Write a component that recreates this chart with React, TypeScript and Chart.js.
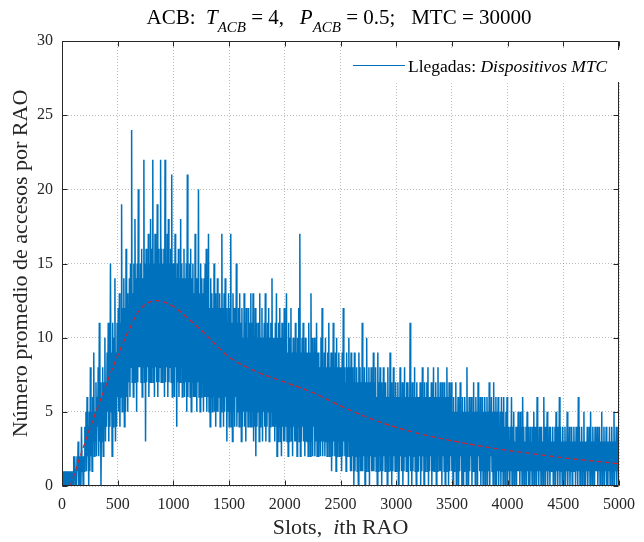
import React, { useEffect, useRef } from "react";
import { Chart, registerables } from "chart.js";

Chart.register(...registerables);

// Simulated arrivals (blue), one value every SLOT_STEP slots
const SLOT_STEP = 5;
// slots 0 – 995
const arrivals0to1000 = [
  0, 1, 0, 1, 0, 0, 1, 0, 1, 0, 0, 1, 0, 1, 0, 1, 0, 1, 0, 1,
  0, 2, 1, 2, 0, 1, 0, 2, 1, 3, 0, 2, 0, 1, 0, 4, 1, 2, 0, 2,
  1, 4, 2, 5, 1, 6, 2, 4, 0, 5, 1, 8, 2, 5, 1, 6, 3, 9, 2, 5,
  3, 7, 2, 6, 4, 8, 2, 11, 3, 7, 0, 6, 3, 8, 2, 7, 4, 10, 3, 7,
  4, 9, 5, 11, 3, 10, 4, 15, 5, 9, 2, 11, 4, 10, 5, 14, 3, 9, 4, 11,
  6, 12, 5, 13, 4, 11, 6, 19, 5, 12, 6, 14, 4, 12, 5, 16, 6, 13, 5, 12,
  7, 14, 6, 15, 8, 24, 7, 13, 6, 15, 7, 18, 8, 14, 5, 15, 7, 20, 8, 14,
  8, 15, 7, 16, 6, 14, 8, 22, 7, 15, 3, 16, 7, 14, 8, 17, 6, 15, 7, 18,
  7, 16, 8, 22, 7, 15, 6, 17, 8, 14, 7, 19, 6, 16, 7, 15, 8, 22, 7, 16,
  7, 15, 8, 16, 6, 22, 7, 15, 8, 17, 6, 18, 7, 15, 8, 16, 7, 21, 6, 15,
];
// slots 1000 – 1995
const arrivals1000to2000 = [
  7, 15, 6, 17, 8, 14, 4, 15, 7, 16, 6, 14, 7, 18, 8, 15, 6, 14, 7, 16,
  6, 14, 7, 15, 5, 21, 6, 14, 7, 15, 6, 16, 5, 14, 7, 15, 6, 13, 6, 17,
  6, 14, 5, 13, 7, 20, 6, 13, 5, 15, 6, 14, 7, 13, 5, 14, 6, 15, 6, 16,
  5, 13, 6, 17, 5, 12, 4, 14, 6, 13, 5, 12, 6, 15, 5, 13, 4, 12, 5, 14,
  5, 12, 6, 13, 4, 12, 5, 17, 6, 12, 4, 13, 5, 14, 6, 12, 3, 11, 5, 13,
  4, 12, 5, 17, 4, 11, 3, 13, 5, 12, 4, 11, 6, 15, 4, 11, 5, 12, 4, 13,
  5, 11, 3, 12, 4, 10, 5, 13, 4, 11, 3, 12, 5, 10, 4, 12, 5, 11, 4, 13,
  4, 11, 5, 13, 3, 10, 4, 12, 2, 11, 4, 10, 5, 11, 3, 13, 4, 10, 5, 12,
  3, 10, 5, 11, 4, 13, 3, 10, 4, 11, 5, 12, 3, 10, 4, 11, 5, 14, 4, 10,
  4, 10, 3, 11, 4, 13, 2, 10, 3, 11, 4, 12, 3, 10, 2, 11, 4, 10, 3, 12,
];
// slots 2000 – 2995
const arrivals2000to3000 = [
  3, 10, 4, 13, 3, 9, 2, 11, 3, 10, 4, 12, 3, 9, 2, 10, 4, 9, 3, 11,
  3, 9, 2, 10, 4, 12, 3, 17, 2, 9, 3, 10, 4, 11, 3, 9, 2, 10, 3, 9,
  3, 9, 2, 11, 3, 9, 2, 13, 3, 10, 2, 9, 4, 10, 2, 9, 3, 11, 2, 9,
  2, 9, 3, 8, 2, 10, 3, 12, 2, 8, 3, 9, 2, 10, 3, 8, 2, 9, 3, 11,
  2, 8, 3, 9, 1, 8, 2, 11, 3, 8, 2, 9, 1, 10, 2, 8, 3, 9, 2, 8,
  2, 8, 1, 9, 2, 12, 3, 8, 2, 7, 1, 9, 2, 8, 3, 10, 2, 8, 1, 9,
  1, 8, 2, 7, 0, 9, 1, 7, 2, 8, 1, 7, 0, 9, 2, 8, 1, 7, 1, 11,
  1, 7, 2, 8, 0, 7, 1, 10, 2, 7, 1, 8, 0, 7, 2, 8, 1, 7, 1, 9,
  1, 7, 2, 8, 1, 6, 0, 9, 1, 7, 2, 8, 1, 7, 0, 6, 1, 8, 2, 7,
  1, 7, 2, 6, 0, 8, 1, 6, 2, 9, 1, 7, 0, 6, 1, 8, 2, 6, 1, 7,
];
// slots 3000 – 3995
const arrivals3000to4000 = [
  1, 6, 2, 7, 0, 6, 1, 8, 2, 6, 1, 7, 0, 6, 1, 8, 2, 6, 1, 7,
  1, 7, 0, 6, 2, 11, 1, 6, 0, 7, 1, 6, 2, 8, 1, 6, 0, 7, 1, 6,
  1, 6, 2, 7, 0, 6, 1, 8, 2, 6, 0, 7, 1, 6, 2, 7, 1, 8, 0, 6,
  1, 6, 2, 7, 0, 6, 1, 8, 1, 6, 2, 7, 0, 6, 1, 8, 2, 6, 1, 7,
  1, 6, 0, 7, 2, 6, 1, 7, 0, 6, 1, 8, 2, 6, 0, 7, 1, 6, 2, 7,
  1, 5, 0, 6, 1, 5, 2, 7, 0, 5, 1, 6, 0, 5, 1, 7, 2, 5, 0, 6,
  0, 5, 1, 6, 2, 5, 0, 8, 1, 5, 0, 6, 1, 5, 2, 6, 0, 5, 1, 7,
  1, 5, 0, 6, 1, 5, 0, 7, 2, 5, 1, 6, 0, 5, 1, 6, 0, 5, 1, 6,
  0, 5, 1, 6, 0, 5, 1, 7, 0, 5, 2, 6, 1, 5, 0, 7, 1, 5, 0, 6,
  0, 5, 1, 6, 0, 4, 1, 5, 0, 6, 1, 5, 0, 6, 1, 4, 0, 5, 1, 6,
];
// slots 4000 – 4995
const arrivals4000to5000 = [
  0, 4, 1, 3, 0, 4, 1, 6, 0, 4, 1, 5, 0, 3, 1, 4, 0, 4, 1, 5,
  1, 4, 0, 5, 1, 4, 0, 6, 1, 4, 0, 3, 1, 4, 0, 5, 1, 4, 0, 3,
  0, 4, 1, 3, 0, 4, 1, 5, 0, 4, 1, 4, 0, 6, 1, 3, 0, 4, 1, 4,
  0, 4, 1, 3, 0, 6, 1, 4, 0, 4, 1, 5, 0, 3, 1, 4, 0, 4, 1, 3,
  1, 4, 0, 3, 1, 4, 0, 5, 1, 4, 0, 3, 1, 6, 0, 4, 1, 3, 0, 4,
  0, 3, 1, 4, 0, 3, 1, 5, 0, 3, 1, 4, 0, 3, 1, 4, 0, 3, 1, 4,
  1, 3, 0, 4, 1, 3, 0, 6, 1, 4, 0, 3, 1, 4, 0, 3, 1, 5, 0, 3,
  0, 3, 1, 4, 0, 3, 1, 4, 0, 5, 1, 3, 0, 4, 1, 3, 0, 4, 1, 3,
  1, 4, 0, 3, 1, 4, 0, 3, 1, 5, 0, 3, 1, 4, 0, 3, 1, 4, 0, 3,
  0, 3, 1, 4, 0, 3, 1, 4, 0, 3, 1, 5, 0, 3, 1, 4, 0, 3, 1, 4,
];

// Mean arrival curve (red, dashed)
const meanSlots = [75, 200, 300, 400, 500, 600, 700, 850, 1000, 1100, 1250, 1500, 1750, 2000, 2250, 2500, 2750, 3000, 3250, 3500, 3750, 4000, 4250, 4500, 4750, 5000];
const meanValues = [0, 2.8, 4.9, 6.9, 8.8, 10.5, 11.9, 12.5, 12.1, 11.5, 10.5, 8.7, 7.7, 7.0, 6.3, 5.4, 4.6, 3.95, 3.45, 3.05, 2.7, 2.4, 2.15, 1.9, 1.7, 1.5];

const xTickValues = [0, 500, 1000, 1500, 2000, 2500, 3000, 3500, 4000, 4500, 5000];
const yTickValues = [0, 5, 10, 15, 20, 25, 30];

const FONT = '"Liberation Serif", "Times New Roman", serif';
const TEXT = "#262626";
const BLUE = "#0072BD";
const RED = "rgb(217,32,42)";

type Part = { t: string; i?: boolean; sub?: boolean };

function drawRich(ctx: CanvasRenderingContext2D, parts: Part[], cx: number, baseline: number, size: number, subSize: number, subOffset: number) {
  const fontFor = (p: Part) => `${p.i ? "italic " : ""}${p.sub ? subSize : size}px ${FONT}`;
  let total = 0;
  const widths = parts.map((p) => {
    ctx.font = fontFor(p);
    const w = ctx.measureText(p.t).width;
    total += w;
    return w;
  });
  let x = cx - total / 2;
  ctx.textAlign = "left";
  ctx.textBaseline = "alphabetic";
  parts.forEach((p, k) => {
    ctx.font = fontFor(p);
    ctx.fillText(p.t, x, baseline + (p.sub ? subOffset : 0));
    x += widths[k];
  });
}

const decorPlugin = {
  id: "decor",
  afterDatasetsDraw(chart: any) {
    const { ctx, chartArea: a, scales } = chart;
    ctx.save();
    ctx.strokeStyle = TEXT;
    ctx.lineWidth = 1;
    const L = Math.round(a.left) + 0.5;
    const R = Math.round(a.right) - 0.5;
    const T = Math.round(a.top) + 0.5;
    const B = Math.round(a.bottom) - 0.5;
    ctx.beginPath();
    ctx.rect(L, T, R - L, B - T);
    const tl = 5;
    xTickValues.forEach((v) => {
      const px = Math.round(scales.x.getPixelForValue(v)) + 0.5;
      ctx.moveTo(px, B);
      ctx.lineTo(px, B - tl);
      ctx.moveTo(px, T);
      ctx.lineTo(px, T + tl);
    });
    yTickValues.forEach((v) => {
      const py = Math.round(scales.y.getPixelForValue(v)) + 0.5;
      ctx.moveTo(L, py);
      ctx.lineTo(L + tl, py);
      ctx.moveTo(R, py);
      ctx.lineTo(R - tl, py);
    });
    ctx.stroke();

    // legend
    ctx.fillStyle = "#ffffff";
    ctx.fillRect(347, 50, 278, 32);
    ctx.strokeStyle = BLUE;
    ctx.beginPath();
    ctx.moveTo(353, 65.5);
    ctx.lineTo(405, 65.5);
    ctx.stroke();
    ctx.fillStyle = "#000000";
    ctx.textBaseline = "alphabetic";
    ctx.textAlign = "left";
    ctx.font = `17.5px ${FONT}`;
    const lead = "Llegadas: ";
    ctx.fillText(lead, 408, 72);
    const w = ctx.measureText(lead).width;
    ctx.font = `italic 17.5px ${FONT}`;
    ctx.fillText("Dispositivos MTC", 408 + w, 72);
    ctx.restore();
  },
  afterDraw(chart: any) {
    const { ctx, chartArea: a } = chart;
    ctx.save();
    ctx.fillStyle = "#000000";
    drawRich(
      ctx,
      [
        { t: "ACB:  " },
        { t: "T", i: true },
        { t: "ACB", i: true, sub: true },
        { t: " = 4,   " },
        { t: "P", i: true },
        { t: "ACB", i: true, sub: true },
        { t: " = 0.5;   MTC = 30000" },
      ],
      339,
      24,
      21,
      15,
      8
    );
    ctx.fillStyle = TEXT;
    drawRich(ctx, [{ t: "Slots,  " }, { t: "i", i: true }, { t: "th RAO" }], (a.left + a.right) / 2, 534, 22, 22, 0);
    ctx.translate(21, (a.top + a.bottom) / 2);
    ctx.rotate(-Math.PI / 2);
    ctx.font = `22px ${FONT}`;
    ctx.textAlign = "center";
    ctx.textBaseline = "middle";
    ctx.fillText("Número promedio de accesos por RAO", 0, 0);
    ctx.restore();
  },
};

export default function App() {
  const ref = useRef<HTMLCanvasElement | null>(null);
  useEffect(() => {
    if (!ref.current) return;
    const arrivals = [
      ...arrivals0to1000,
      ...arrivals1000to2000,
      ...arrivals2000to3000,
      ...arrivals3000to4000,
      ...arrivals4000to5000,
    ];
    const bluePoints = arrivals.map((v, k) => ({ x: k * SLOT_STEP, y: v }));
    const redPoints = meanSlots.map((s, k) => ({ x: s, y: meanValues[k] }));
    const gridColor = "rgba(38,38,38,0.3)";
    const chart = new Chart(ref.current, {
      type: "line",
      data: {
        datasets: [
          {
            label: "Media",
            data: redPoints,
            borderColor: RED,
            borderWidth: 1.2,
            borderDash: [5, 3],
            pointRadius: 0,
            cubicInterpolationMode: "monotone",
            order: 1,
          },
          {
            label: "Llegadas: Dispositivos MTC",
            data: bluePoints,
            borderColor: BLUE,
            borderWidth: 1.5,
            pointRadius: 0,
            order: 2,
          },
        ],
      },
      options: {
        responsive: false,
        animation: false,
        devicePixelRatio: 1,
        layout: { padding: { top: 41, right: 16, bottom: 0, left: 0 } },
        plugins: {
          legend: { display: false },
          tooltip: { enabled: false },
          title: { display: false },
        },
        scales: {
          x: {
            type: "linear",
            min: 0,
            max: 5000,
            afterBuildTicks: (s: any) => {
              s.ticks = xTickValues.map((v) => ({ value: v }));
            },
            afterFit: (s: any) => {
              s.height = 56;
            },
            grid: { color: gridColor, drawTicks: false, lineWidth: 1 },
            border: { display: false, dash: [1, 2] },
            ticks: {
              font: { family: FONT, size: 16 },
              color: TEXT,
              padding: 9,
              maxRotation: 0,
              autoSkip: false,
              callback: (v: any) => String(v),
            },
          },
          y: {
            type: "linear",
            min: 0,
            max: 30,
            afterBuildTicks: (s: any) => {
              s.ticks = yTickValues.map((v) => ({ value: v }));
            },
            afterFit: (s: any) => {
              s.width = 62;
            },
            grid: { color: gridColor, drawTicks: false, lineWidth: 1 },
            border: { display: false, dash: [1, 2] },
            ticks: {
              font: { family: FONT, size: 16 },
              color: TEXT,
              padding: 9,
              autoSkip: false,
              callback: (v: any) => String(v),
            },
          },
        },
      },
      plugins: [decorPlugin],
    } as any);
    return () => chart.destroy();
  }, []);
  return (
    <div style={{ position: "absolute", left: 0, top: 0, width: 644, height: 542, background: "#fff" }}>
      <canvas ref={ref} width={644} height={542} />
    </div>
  );
}
